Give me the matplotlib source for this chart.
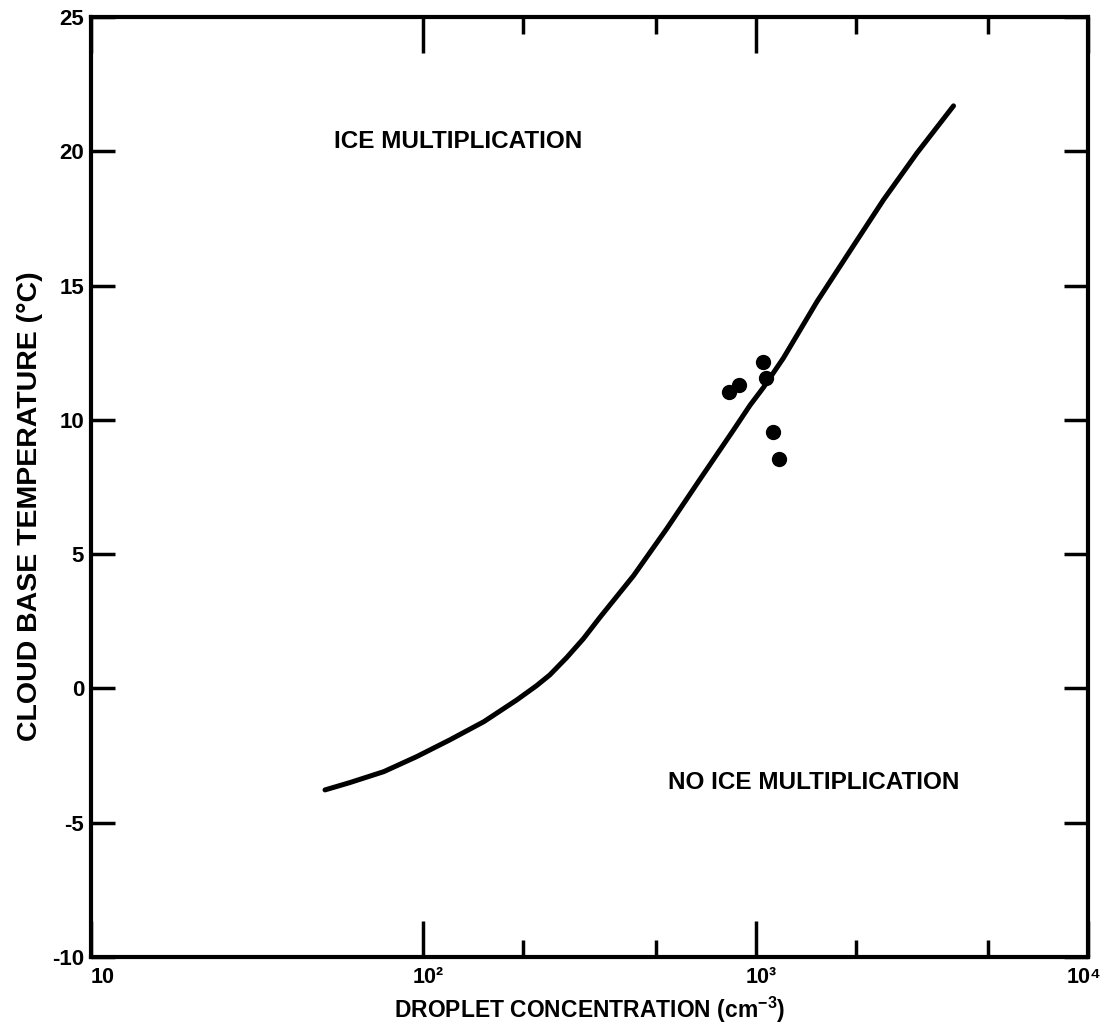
import matplotlib
matplotlib.use("Agg")
import matplotlib.pyplot as plt
import matplotlib.transforms as mtransforms
from matplotlib.ticker import FixedLocator, NullFormatter

plt.rcParams['font.family'] = ['Liberation Sans', 'DejaVu Sans']
plt.rcParams['font.weight'] = 'bold'
plt.rcParams['axes.labelweight'] = 'bold'
plt.rcParams['mathtext.fontset'] = 'custom'
plt.rcParams['mathtext.rm'] = 'Liberation Sans:bold'
plt.rcParams['mathtext.it'] = 'Liberation Sans:bold'

# curva limite
curva_n = [50.6, 60, 76, 95.5, 120, 152, 191, 219, 240, 270, 303, 340, 429, 540,
           679, 857, 962, 1054, 1211, 1528, 1924, 2422, 3053, 3935]
curva_t = [-3.78, -3.51, -3.10, -2.54, -1.92, -1.24, -0.43, 0.10, 0.50, 1.15, 1.85,
           2.65, 4.20, 5.95, 7.78, 9.62, 10.55, 11.2, 12.3, 14.4, 16.3, 18.19,
           19.93, 21.69]

# observaciones
obs_n = [832, 891, 1052, 1074, 1128, 1176]
obs_t = [11.05, 11.3, 12.15, 11.55, 9.55, 8.55]

xticks_may = [10, 100, 1000, 10000]
xticks_lab = ['10', '10²', '10³', '10⁴']
xticks_men = [200, 500, 2000, 5000]
yticks = [-10, -5, 0, 5, 10, 15, 20, 25]

fig = plt.figure(figsize=(11.08, 10.28), dpi=100)
ax = fig.add_axes([0.0821, 0.0691, 0.9000, 0.9144])

ax.plot(curva_n, curva_t, color='black', linewidth=3.6, solid_capstyle='round',
        solid_joinstyle='round')
ax.plot(obs_n, obs_t, 'o', color='black', markersize=10)

ax.set_xscale('log')
ax.set_xlim(10, 10000)
ax.set_ylim(-10, 25)

ax.xaxis.set_major_locator(FixedLocator(xticks_may))
ax.set_xticklabels(xticks_lab)
ax.xaxis.set_minor_locator(FixedLocator(xticks_men))
ax.xaxis.set_minor_formatter(NullFormatter())
ax.set_yticks(yticks)
ax.set_yticklabels([str(v) for v in yticks])

ax.tick_params(axis='x', which='major', direction='in', length=26, width=2.5,
               top=True, labelsize=15.5, pad=7)
ax.tick_params(axis='x', which='minor', direction='in', length=12, width=2.5, top=True)
ax.tick_params(axis='y', direction='in', length=17, width=2.5, right=True,
               labelsize=16, pad=5)
for s in ax.spines.values():
    s.set_linewidth(3)

# el "10" de cada etiqueta queda centrado en la marca
desplaz = [12, 5, 5, -4]
for lab, dx in zip(ax.get_xticklabels(), desplaz):
    lab.set_transform(lab.get_transform() +
                      mtransforms.ScaledTranslation(dx / 100, 0, fig.dpi_scale_trans))

ax.set_xlabel('DROPLET CONCENTRATION (cm$^{-3}$)', fontsize=16.5, labelpad=5)
ax.set_ylabel('CLOUD BASE TEMPERATURE (°C)', fontsize=20.5)
ax.yaxis.set_label_coords(-0.048, 0.48)

ax.text(54, 20.35, 'ICE MULTIPLICATION', fontsize=17.5, va='center', ha='left')
ax.text(545, -3.5, 'NO ICE MULTIPLICATION', fontsize=17.5, va='center', ha='left')

fig.savefig('out.png', dpi=100)
